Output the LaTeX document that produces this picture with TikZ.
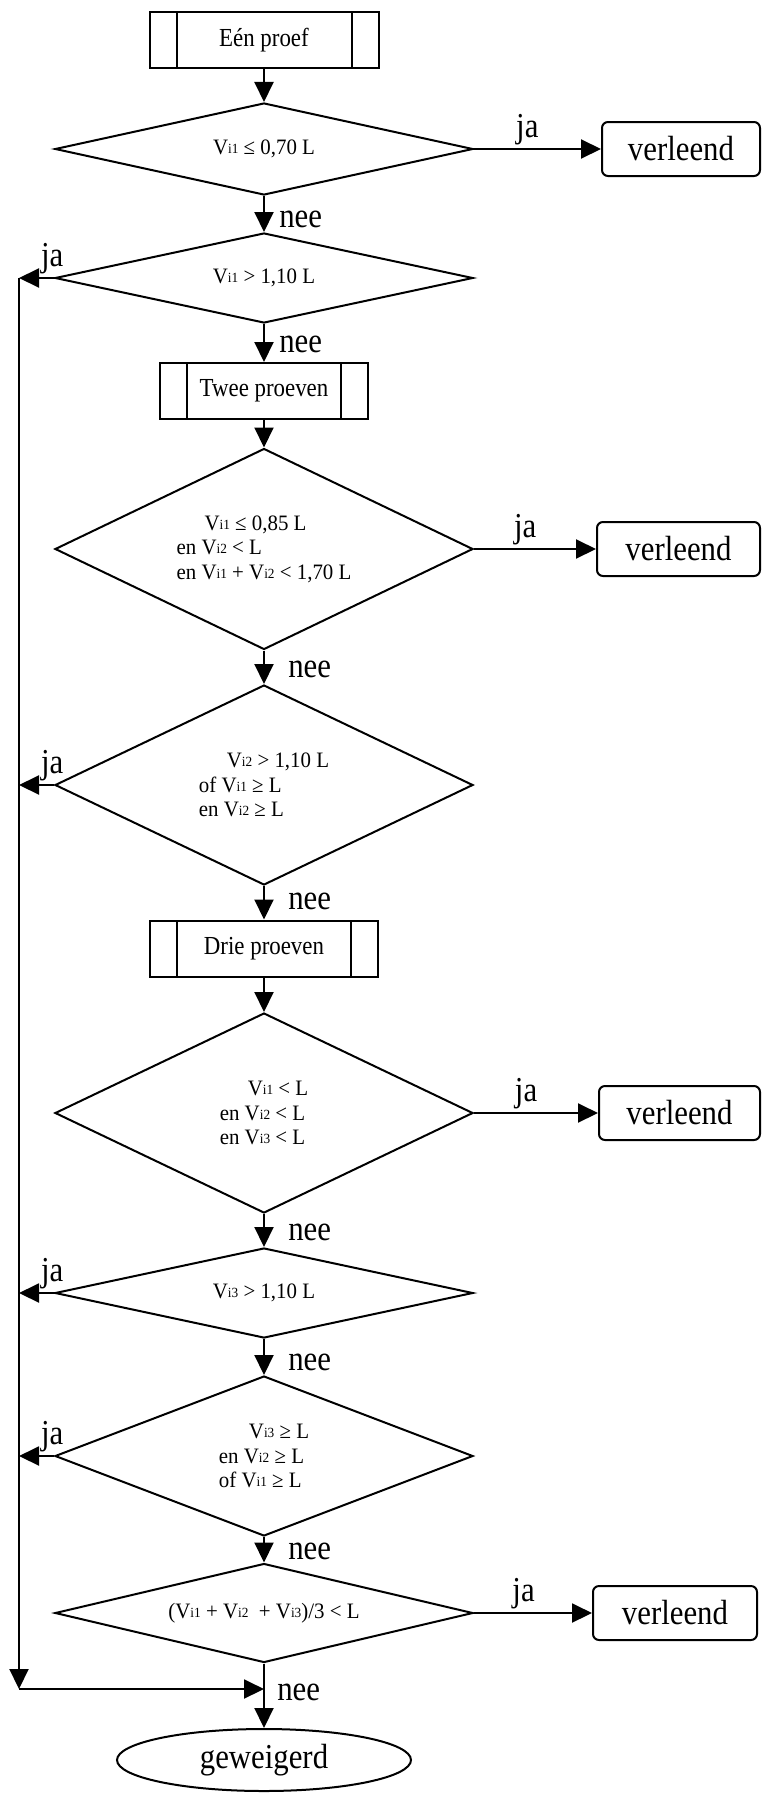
\documentclass[tikz,border=0pt]{standalone}
\usepackage{fontspec}
\setmainfont{Liberation Serif}[FakeStretch=0.95]
\newfontfamily\bigfont{Liberation Serif}[FakeStretch=0.88]
\usetikzlibrary{arrows.meta,positioning,shapes.geometric}
\newcommand\vsub[1]{V\raisebox{1pt}{\fontsize{14}{14}\selectfont i#1}}

\begin{document}
\begin{tikzpicture}[x=1pt, y=-1pt, line width=2pt,
  flow/.style={-{Triangle[length=20pt, width=19pt]}},
  proc/.style={draw, minimum height=56pt, inner sep=0pt, font=\bigfont\fontsize{26}{30}\selectfont,
    path picture={\draw[line width=2pt] ([xshift=27pt]path picture bounding box.north west) -- ([xshift=27pt]path picture bounding box.south west);
      \draw[line width=2pt] ([xshift=-27pt]path picture bounding box.north east) -- ([xshift=-27pt]path picture bounding box.south east);}},
  check/.style={draw, diamond, inner sep=0pt, minimum width=418pt, align=left, font=\fontsize{22}{24.5}\selectfont},
  outcome/.style={draw, rounded corners=6pt, minimum height=54pt, inner sep=0pt, font=\bigfont\fontsize{35}{40}\selectfont},
  ending/.style={draw, ellipse, minimum width=294pt, minimum height=62pt, inner sep=0pt, font=\bigfont\fontsize{35}{40}\selectfont},
  lab/.style={font=\bigfont\fontsize{35}{40}\selectfont},
  neelab/.style={lab, right}]
\useasboundingbox (0,0) rectangle (761,1793);
\node[proc, minimum width=229pt] (een) at (264,40.5) {Eén proef};
\node[check, minimum height=92pt, aspect=4.5] (d1) at (264,149) {\vsub1 ≤ 0,70 L};
\node[check, minimum height=90pt, aspect=4.6] (d2) at (264,278) {\vsub1 > 1,10 L};
\node[proc, minimum width=208pt] (twee) at (264,391) {Twee proeven};
\node[check, minimum height=201pt, aspect=2.1] (d3) at (264,549) {\hspace*{28pt}\vsub1 ≤ 0,85 L\\en \vsub2 < L\\en \vsub1 + \vsub2 < 1,70 L};
\node[check, minimum height=200pt, aspect=2.1] (d4) at (264,785) {\hspace*{28pt}\vsub2 > 1,10 L\\of \vsub1 ≥ L\\en \vsub2 ≥ L};
\node[proc, minimum width=228pt] (drie) at (264,948.5) {Drie proeven};
\node[check, minimum height=200pt, aspect=2.1] (d5) at (264,1113) {\hspace*{28pt}\vsub1 < L\\en \vsub2 < L\\en \vsub3 < L};
\node[check, minimum height=90pt, aspect=4.6] (d6) at (264,1293) {\vsub3 > 1,10 L};
\node[check, minimum height=160pt, aspect=2.6] (d7) at (264,1456) {\hspace*{30pt}\vsub3 ≥ L\\en \vsub2 ≥ L\\of \vsub1 ≥ L};
\node[check, minimum height=99pt, aspect=4.2] (d8) at (264,1613) {(\vsub1 + \vsub2\ \ + \vsub3)/3 < L};
\foreach \n/\x/\y/\w in {v1/681/149/158, v2/678.5/549/163, v3/679.5/1113/161, v4/675/1613/164}
  { \node[outcome, minimum width=\w pt] (\n) at (\x,\y) {verleend}; }
\node[ending] (gew) at (264,1760) {geweigerd};
\coordinate (railtop) at (19,278);
\coordinate (railbot) at (19,1689);
\coordinate (join) at (264,1689);
\draw[flow] (een) -- (d1);
\draw[flow] (twee) -- (d3);
\draw[flow] (drie) -- (d5);
\foreach \a/\b/\p/\s in {d1/d2/0.65/11, d2/twee/0.55/11, d3/d4/0.55/20, d4/drie/0.45/20, d5/d6/0.55/20, d6/d7/0.65/20, d7/d8/0.55/20}
  { \draw[flow] (\a) -- node[neelab, pos=\p, xshift=\s pt] (nee-\a) {nee} (\b); }
\foreach \d/\v in {d1/v1, d3/v2, d5/v3, d8/v4}
  { \draw[flow] (\d) -- node[lab, above, pos=0.42] (ja-\d) {ja} (\v); }
\foreach \d in {d2, d4, d6, d7}
  { \draw[flow] (\d.west) -- node[lab, above, pos=0.05] (ja-\d) {ja} (\d.west -| railtop); }
\draw[flow] (railtop) -- (railbot);
\draw[flow] (railbot) -- (join);
\draw[flow] (d8) -- node[neelab, pos=0.45, xshift=9pt] (nee-d8) {nee} (gew);
\end{tikzpicture}
\end{document}
